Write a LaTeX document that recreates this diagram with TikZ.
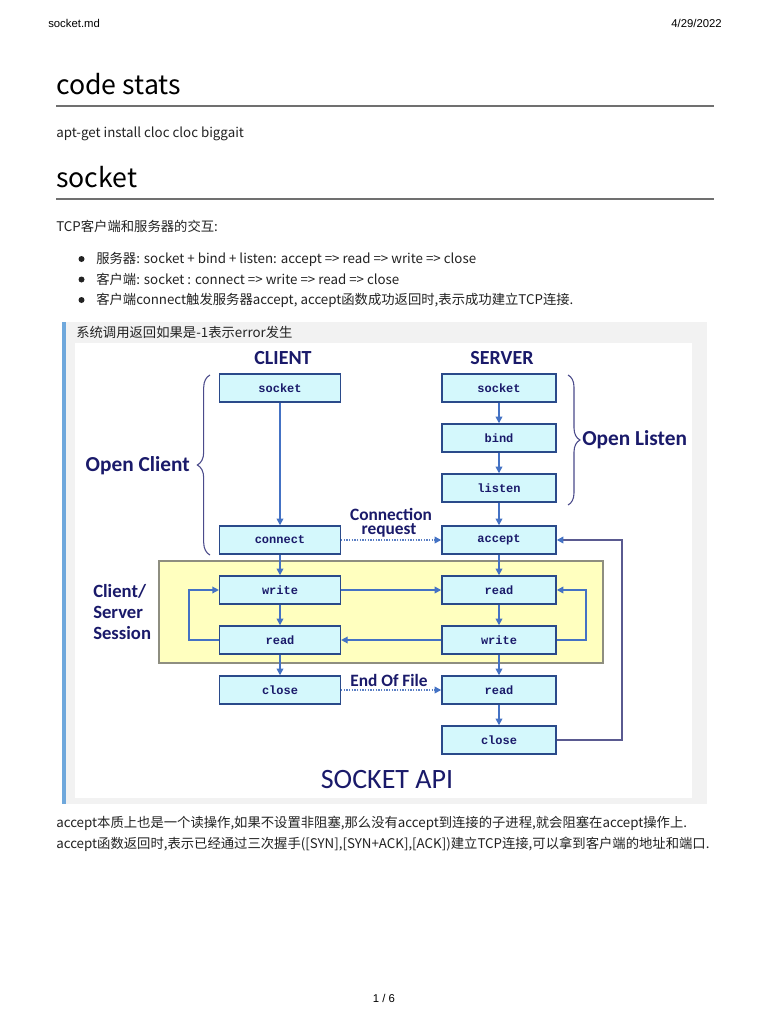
\documentclass[tikz,border=0pt]{standalone}
\usepackage{fontspec}
\usetikzlibrary{arrows.meta,decorations.pathreplacing}
\newfontfamily\cjk{Noto Sans CJK SC}
\newfontfamily\hdrfont{Liberation Sans}
\newfontfamily\calfont{Carlito}
\newfontfamily\boxfont{Liberation Mono}
\definecolor{boxfill}{HTML}{D4F8FC}
\definecolor{boxdraw}{HTML}{2A4A8A}
\definecolor{arrowc}{HTML}{4472C4}
\definecolor{navy}{HTML}{1A1A6A}
\definecolor{outerc}{HTML}{5A5A90}
\definecolor{yel}{HTML}{FFFFBF}
\definecolor{yelc}{HTML}{8E8E80}
\definecolor{bracec}{HTML}{4B4B8B}
\definecolor{graybg}{HTML}{F2F2F2}
\definecolor{barc}{HTML}{6FA8DC}
\definecolor{dotc}{HTML}{5B7FC4}
\definecolor{rulec}{HTML}{707070}
\definecolor{bodyc}{HTML}{222222}
\begin{document}
\begin{tikzpicture}[x=0.75pt,y=-0.75pt,
  body/.style={anchor=base west,inner sep=0,font=\cjk\fontsize{10}{12}\selectfont,text=bodyc},
  heading/.style={anchor=base west,inner sep=0,font=\cjk\fontsize{20}{24}\selectfont,text=black},
  hdr/.style={inner sep=0,font=\hdrfont\fontsize{8.5}{10}\selectfont,text=black},
  fnbox/.style={draw=boxdraw,fill=boxfill,line width=1.1pt,minimum height=21pt,inner sep=0,
     font=\boxfont\bfseries\fontsize{9}{10}\selectfont,text=navy},
  cbox/.style={fnbox,minimum width=90.5pt},
  sbox/.style={fnbox,minimum width=85.5pt},
  lbl/.style={inner sep=0,font=\calfont\bfseries\fontsize{13}{12}\selectfont,text=navy},
  big/.style={inner sep=0,font=\calfont\bfseries\fontsize{16}{18}\selectfont,text=navy},
  arr/.style={-{Triangle[length=5pt,width=5pt]},draw=arrowc,line width=1.1pt},
  dotarr/.style={-{Triangle[length=5pt,width=5pt,fill=arrowc,color=arrowc]},draw=dotc,line width=1pt,densely dotted},
  bullet/.style={circle,fill=bodyc,inner sep=0,minimum size=4.5pt}]
\useasboundingbox (0,0) rectangle (768,1024);
\fill[white] (0,0) rectangle (768,1024);
% page header/footer
\node[hdr,anchor=base west] (hl) at (48,28) {socket.md};
\node[hdr,anchor=base east] (hr) at (722,28) {4/29/2022};
\node[hdr,anchor=base] (pg) at (384,1002) {1 / 6};
% headings
\node[heading] (h1) at (56,94) {code stats};
\draw[rulec,line width=1.1pt] (56,106) -- (714,106);
\node[body] (t1) at (56,137.5) {apt-get install cloc cloc biggait};
\node[heading] (h2) at (56,187) {socket};
\draw[rulec,line width=1.1pt] (56,199) -- (714,199);
\node[body] (t2) at (56,231.5) {TCP客户端和服务器的交互:};
\node[bullet] (b1) at (81.5,259) {};
\node[bullet] (b2) at (81.5,279.5) {};
\node[bullet] (b3) at (81.5,300) {};
\node[body] (l1) at (96,263.5) {服务器: socket + bind + listen: accept => read => write => close};
\node[body] (l2) at (96,284) {客户端: socket : connect => write => read => close};
\node[body] (l3) at (96,304.5) {客户端connect触发服务器accept, accept函数成功返回时,表示成功建立TCP连接.};
% blockquote
\fill[graybg] (62,322) rectangle (707,804);
\fill[barc] (62,322) rectangle (66,804);
\node[body] (q) at (76,337.5) {系统调用返回如果是-1表示error发生};
\fill[white] (75,343) rectangle (692,798);
% session area
\draw[fill=yel,draw=yelc,line width=1pt] (159,561) rectangle (603,663);
% titles
\node[inner sep=0,font=\calfont\bfseries\fontsize{15}{18}\selectfont,text=navy] (client) at (283,358) {CLIENT};
\node[inner sep=0,font=\calfont\bfseries\fontsize{15}{18}\selectfont,text=navy] (server) at (502,358) {SERVER};
% client boxes
\node[cbox] (cs) at (280,388) {socket};
\node[cbox] (cc) at (280,540) {connect};
\node[cbox] (cw) at (280,590) {write};
\node[cbox] (cr) at (280,640) {read};
\node[cbox] (ccl) at (280,690) {close};
% server boxes
\node[sbox] (ss) at (499,388) {socket};
\node[sbox] (sb) at (499,438) {bind};
\node[sbox] (sl) at (499,488) {listen};
\node[sbox] (sa) at (499,540) {accept};
\node[sbox] (sr) at (499,590) {read};
\node[sbox] (sw) at (499,640) {write};
\node[sbox] (sr2) at (499,690) {read};
\node[sbox] (scl) at (499,740) {close};
% client chain
\draw[arr] (cs) -- (cc);
\draw[arr] (cc) -- (cw);
\draw[arr] (cw) -- (cr);
\draw[arr] (cr) -- (ccl);
% server chain
\draw[arr] (ss) -- (sb);
\draw[arr] (sb) -- (sl);
\draw[arr] (sl) -- (sa);
\draw[arr] (sa) -- (sr);
\draw[arr] (sr) -- (sw);
\draw[arr] (sw) -- (sr2);
\draw[arr] (sr2) -- (scl);
% cross arrows
\draw[arr] (cw.east) -- (sr.west);
\draw[arr] (sw.west) -- (cr.east);
% loops
\coordinate (lc) at (189,640);
\coordinate (rc) at (586,640);
\coordinate (oc) at (622,740);
\draw[arr] (cr.west) -- (lc) |- (cw.west);
\draw[arr] (sw.east) -- (rc) |- (sr.east);
\draw[-{Triangle[length=5pt,width=5pt,fill=arrowc,color=arrowc]},line width=1.1pt,draw=outerc] (scl.east) -- (oc) |- (sa.east);
% dotted requests
\draw[dotarr] (cc.east) -- (sa.west);
\draw[dotarr] (ccl.east) -- (sr2.west);
\node[lbl,anchor=base] (creq1) at (391,520.5) {Connection};
\node[lbl,anchor=base] (creq2) at (389,534) {request};
\node[lbl] (eof) at (389,680.5) {End Of File};
% braces
\draw[bracec,line width=0.8pt,decorate,decoration={brace,amplitude=9.5pt}] (210,555) -- (210,375);
\draw[bracec,line width=0.8pt,decorate,decoration={brace,amplitude=9pt}] (568,375) -- (568,505);
\node[big,anchor=east] (oclient) at (190,466) {Open Client};
\node[big,anchor=west] (olisten) at (582,440) {Open Listen};
\node[inner sep=0,anchor=west,align=left,font=\calfont\bfseries\fontsize{14}{15.75}\selectfont,text=navy] (sess) at (93,612) {Client/\\Server\\Session};
\node[inner sep=0,font=\calfont\fontsize{21}{24}\selectfont,text=navy] (api) at (387,780) {SOCKET API};
% bottom text
\node[body] (e1) at (56,827.5) {accept本质上也是一个读操作,如果不设置非阻塞,那么没有accept到连接的子进程,就会阻塞在accept操作上.};
\node[body] (e2) at (56,848) {accept函数返回时,表示已经通过三次握手([SYN],[SYN+ACK],[ACK])建立TCP连接,可以拿到客户端的地址和端口.};
\end{tikzpicture}
\end{document}
